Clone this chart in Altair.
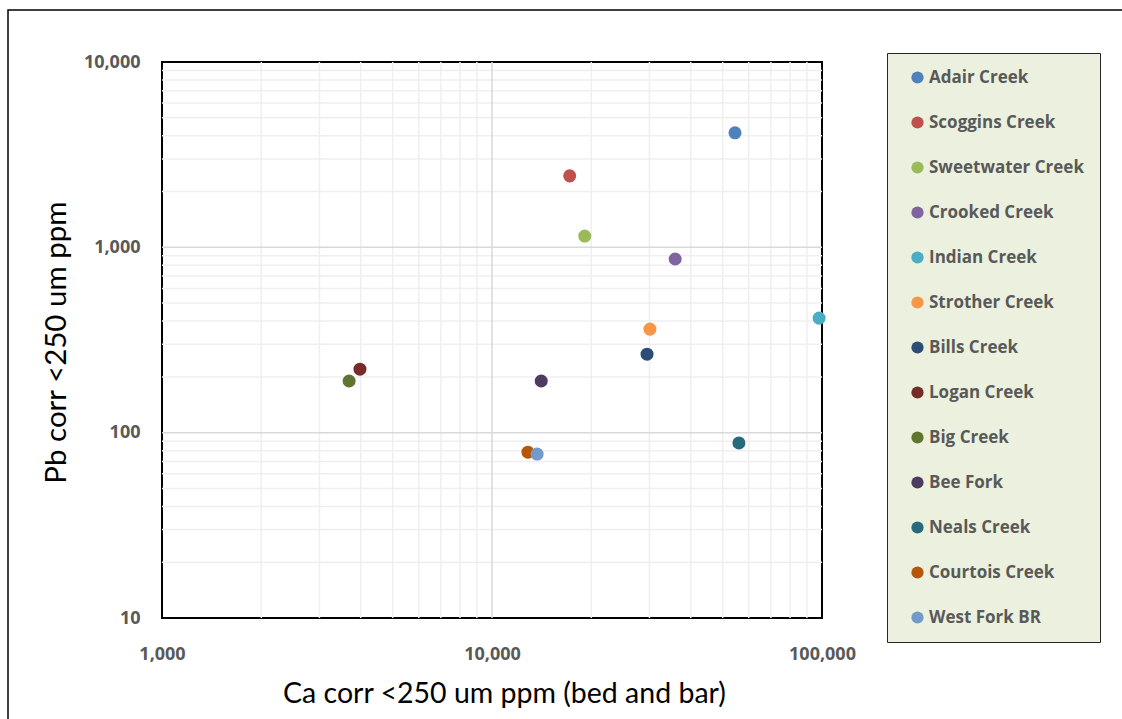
import altair as alt
import pandas as pd

# Sample sites (legend order) and their Excel-style series colours
sites = [
    "Adair Creek", "Scoggins Creek", "Sweetwater Creek", "Crooked Creek",
    "Indian Creek", "Strother Creek", "Bills Creek", "Logan Creek",
    "Big Creek", "Bee Fork", "Neals Creek", "Courtois Creek", "West Fork BR",
]
colors = [
    "#4F81BD", "#C0504D", "#9BBB59", "#8064A2",
    "#4BACC6", "#F79646", "#2C4D75", "#772C2A",
    "#5F7530", "#4D3B62", "#276A7C", "#B65708", "#729ACA",
]

# Ca and Pb concentrations, <250 um fraction (ppm)
ca_ppm = [54500, 17200, 19100, 35900, 98000, 30100, 29500,
          3980, 3690, 14100, 56000, 12850, 13700]
pb_ppm = [4150, 2430, 1150, 865, 415, 362, 265,
          220, 190, 190, 88, 78.5, 76.7]

# Axis ticks and gridlines
x_major = [1000, 10000, 100000]
y_major = [10, 100, 1000, 10000]
x_inner_major = [10000]
y_inner_major = [100, 1000]
x_minor = [m * d for d in (1000, 10000) for m in range(2, 10)]
y_minor = [m * d for d in (10, 100, 1000) for m in range(2, 10)]

points = pd.DataFrame({"site": sites, "ca": ca_ppm, "pb": pb_ppm})

W, H = 660, 556
FONT = "Lato"
LEG_FONT = "Open Sans"

x_scale = alt.Scale(type="log", domain=[1000, 100000], nice=False)
y_scale = alt.Scale(type="log", domain=[10, 10000], nice=False)

x_axis = alt.Axis(
    values=x_major, format=",d", grid=False, ticks=False, domain=False,
    labelFont=LEG_FONT, labelFontSize=18, labelFontWeight="bold", labelColor="#595959",
    labelPadding=27, labelFlush=False,
    title="Ca corr <250 um ppm (bed and bar)", titleFont=FONT, titleFontSize=28.5,
    titleFontWeight="normal", titleColor="#000000",
    titleX=342, titleY=84, titleBaseline="alphabetic",
)
y_axis = alt.Axis(
    values=y_major, format=",d", grid=False, ticks=False, domain=False,
    labelFont=LEG_FONT, labelFontSize=18, labelFontWeight="bold", labelColor="#595959",
    labelPadding=22, labelFlush=False,
    title="Pb corr <250 um ppm", titleFont=FONT, titleFontSize=29.5,
    titleFontWeight="normal", titleColor="#000000",
    titleX=-97, titleY=H / 2 + 2, titleBaseline="alphabetic",
)

def vrules(vals, color, width):
    return alt.Chart(pd.DataFrame({"v": vals})).mark_rule(
        color=color, strokeWidth=width
    ).encode(x=alt.X("v:Q", scale=x_scale, axis=x_axis))

def hrules(vals, color, width):
    return alt.Chart(pd.DataFrame({"v": vals})).mark_rule(
        color=color, strokeWidth=width
    ).encode(y=alt.Y("v:Q", scale=y_scale, axis=y_axis))

grid = (
    vrules(x_minor, "#EFEFEF", 1.5) + hrules(y_minor, "#EFEFEF", 1.5)
    + vrules(x_inner_major, "#D9D9D9", 1.5) + hrules(y_inner_major, "#D9D9D9", 1.5)
)

scatter = alt.Chart(points).mark_circle(size=170, opacity=1).encode(
    x=alt.X("ca:Q", scale=x_scale, axis=x_axis),
    y=alt.Y("pb:Q", scale=y_scale, axis=y_axis),
    color=alt.Color(
        "site:N",
        sort=sites,
        scale=alt.Scale(domain=sites, range=colors),
        legend=alt.Legend(
            title=None, orient="none", legendX=725, legendY=-9,
            fillColor="#EBF1DE", strokeColor="#262626", padding=16,
            labelFont=LEG_FONT, labelFontSize=17, labelFontWeight="bold",
            labelColor="#595959", labelLimit=300,
            symbolType="circle", symbolSize=150, symbolStrokeWidth=0,
            symbolOpacity=1, symbolOffset=6, rowPadding=27, labelOffset=3,
        ),
    ),
    order=alt.Order("idx:Q"),
).transform_window(idx="row_number()")

# Chart-area frame around everything
frame = alt.Chart(pd.DataFrame({"k": [0]})).mark_rect(
    fill=None, stroke="#000000", strokeWidth=1.5
).encode(
    x=alt.value(-154), x2=alt.value(975),
    y=alt.value(-52), y2=alt.value(675),
)

chart = alt.layer(grid, scatter, frame).properties(
    width=W, height=H,
    autosize=alt.AutoSizeParams(type="none"),
    padding={"left": 162, "top": 62, "right": 1122 - 162 - W, "bottom": 719 - 62 - H},
    background="#FFFFFF",
).configure_view(stroke="#000000", strokeWidth=2)

chart.save("out.html", embed_options={"renderer": "svg", "actions": False})
